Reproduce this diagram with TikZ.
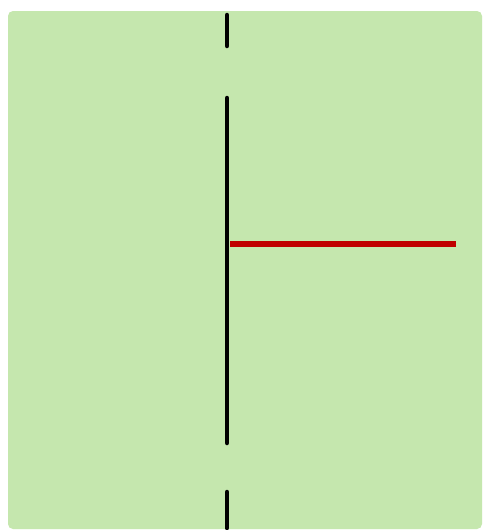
\documentclass[tikz,border=0pt]{standalone}
\definecolor{bggreen}{HTML}{C5E7AE}
\definecolor{linered}{HTML}{C00000}
\begin{document}
\begin{tikzpicture}[x=1pt,y=-1pt,
  blackseg/.style={draw=black,line width=4.5pt,line cap=round},
  redseg/.style={draw=linered,line width=6.5pt}]
\useasboundingbox (0,0) rectangle (484,530);
\fill[white] (0,0) rectangle (484,530);
\fill[bggreen,rounded corners=5pt] (8,11) rectangle (482,529);
\coordinate (t1) at (227,15);
\coordinate (t2) at (227,46);
\coordinate (m1) at (227,98);
\coordinate (m2) at (227,443);
\coordinate (b1) at (227,492);
\coordinate (b2) at (227,528);
\coordinate (r1) at (230,244);
\coordinate (r2) at (456,244);
\draw[blackseg] (t1) -- (t2);
\draw[blackseg] (m1) -- (m2);
\draw[blackseg] (b1) -- (b2);
\draw[redseg] (r1) -- (r2);
\end{tikzpicture}
\end{document}
